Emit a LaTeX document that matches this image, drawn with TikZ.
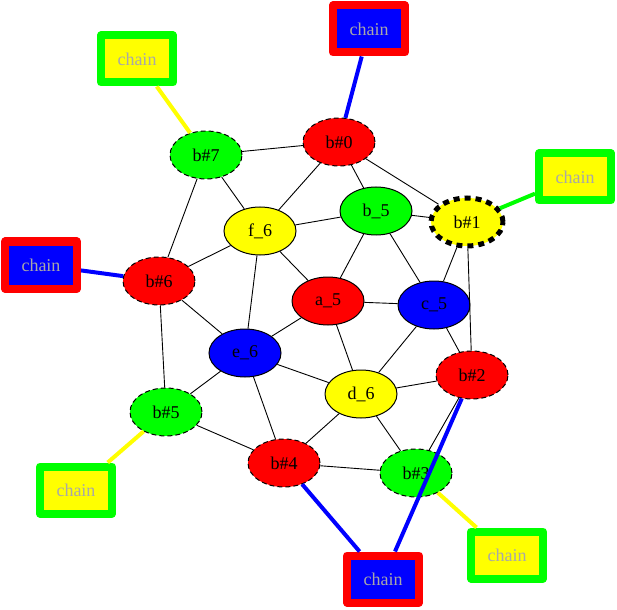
\documentclass[tikz,border=0pt]{standalone}
\usepackage{fontspec}
\setmainfont{Liberation Serif}
\usetikzlibrary{shapes.geometric}
\definecolor{pgreen}{RGB}{0,255,0}
\definecolor{pblue}{RGB}{0,0,255}
\definecolor{pred}{RGB}{255,0,0}
\definecolor{pyellow}{RGB}{255,255,0}
\definecolor{chaintext}{RGB}{168,168,168}
\begin{document}
\begin{tikzpicture}[x=1pt,y=-1pt,
  vtx/.style={ellipse, draw=black, line width=1pt, minimum width=72pt, minimum height=48pt, inner sep=0pt, font=\fontsize{18}{20}\selectfont},
  bvtx/.style={vtx, dash pattern=on 5pt off 3pt},
  hub/.style={vtx, line width=5pt, dash pattern=on 6pt off 5pt},
  chainR/.style={rectangle, draw=pred, fill=pblue, line width=8pt, line join=round, minimum width=72pt, minimum height=47pt, inner sep=0pt, text=chaintext, font=\fontsize{18}{20}\selectfont},
  chainG/.style={chainR, draw=pgreen, fill=pyellow},
  edge/.style={draw=black, line width=0.9pt},
  cedge/.style={line width=4pt}
]
\useasboundingbox (0,0) rectangle (617,609);
% nodes
\node[bvtx, fill=pred] (b0) at (339,142) {b\#0};
\node[bvtx, fill=pgreen] (b7) at (206,155) {b\#7};
\node[vtx, fill=pyellow] (f6) at (260,231) {f\_6};
\node[vtx, fill=pgreen] (b5c) at (376,211) {b\_5};
\node[hub, fill=pyellow] (b1) at (467,222) {b\#1};
\node[bvtx, fill=pred] (b6) at (159,281) {b\#6};
\node[vtx, fill=pred] (a5) at (328,301) {a\_5};
\node[vtx, fill=pblue] (c5) at (434,305) {c\_5};
\node[vtx, fill=pblue] (e6) at (245,353) {e\_6};
\node[vtx, fill=pyellow] (d6) at (361,394) {d\_6};
\node[bvtx, fill=pred] (b2) at (472,375) {b\#2};
\node[bvtx, fill=pgreen] (b5) at (166,412) {b\#5};
\node[bvtx, fill=pred] (b4) at (284,463) {b\#4};
\node[bvtx, fill=pgreen] (b3) at (416,473) {b\#3};
% chain boxes
\node[chainR] (ct) at (369,29) {chain};
\node[chainG] (ctr) at (575,177) {chain};
\node[chainR] (cl) at (41,265) {chain};
\node[chainG] (ctl) at (137,59) {chain};
\node[chainG] (cbl) at (76,490) {chain};
\node[chainR] (cb) at (383,579) {chain};
\node[chainG] (cbr) at (507,555) {chain};
% black edges
\foreach \u/\v in {b0/b7, b0/f6, b0/b5c, b0/b1, b7/f6, b7/b6, f6/b5c, f6/b6, f6/a5, f6/e6,
  b5c/b1, b5c/a5, b5c/c5, b1/c5, b1/b2, b6/e6, b6/b5, a5/c5, a5/e6, a5/d6, c5/d6, c5/b2,
  e6/d6, e6/b5, e6/b4, d6/b2, d6/b4, d6/b3, b2/b3, b5/b4, b4/b3}
  \draw[edge] (\u) -- (\v);
% coloured edges
\draw[cedge, pblue] (b0) -- (ct);
\draw[cedge, pgreen] (b1) -- (ctr);
\draw[cedge, pblue] (b6) -- (cl);
\draw[cedge, pyellow] (b7) -- (ctl);
\draw[cedge, pyellow] (b5) -- (cbl);
\draw[cedge, pblue] (b4) -- (cb);
\draw[cedge, pblue] (b2) -- (cb);
\draw[cedge, pyellow] (b3) -- (cbr);
\end{tikzpicture}
\end{document}
